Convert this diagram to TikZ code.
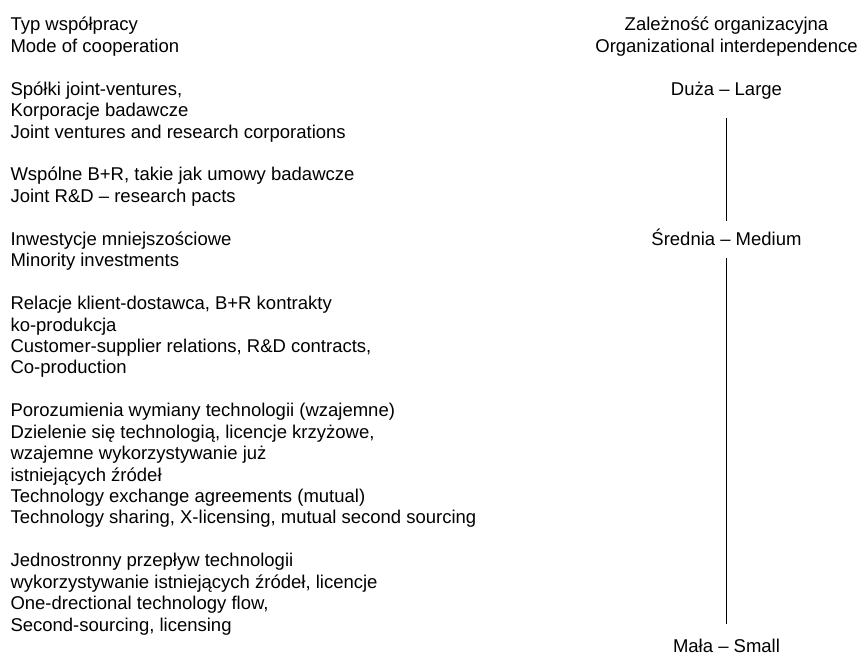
\documentclass[tikz,border=0pt]{standalone}
\usepackage{fontspec}
\setmainfont{Liberation Sans}
\begin{document}
\begin{tikzpicture}[x=1pt,y=-1pt,
  every node/.style={inner sep=0pt,outer sep=0pt,font=\fontsize{18.5}{21.4}\selectfont},
  lefttxt/.style={anchor=base west},
  righttxt/.style={anchor=base},
  scaleline/.style={draw=black,line width=1.1pt}]
\useasboundingbox (0,0) rectangle (862,655);
\def\lx{10.5}
\def\rx{726.5}
% left column: baselines 31 + (n-1)*21.43
\node[lefttxt] (l1) at (\lx,31.0) {Typ współpracy};
\node[lefttxt] (l2) at (\lx,52.4) {Mode of cooperation};
\node[lefttxt] (l4) at (\lx,95.3) {Spółki joint-ventures,};
\node[lefttxt] (l5) at (\lx,116.7) {Korporacje badawcze};
\node[lefttxt] (l6) at (\lx,138.2) {Joint ventures and research corporations};
\node[lefttxt] (l8) at (\lx,181.0) {Wspólne B+R, takie jak umowy badawcze};
\node[lefttxt] (l9) at (\lx,202.4) {Joint R\&D – research pacts};
\node[lefttxt] (l11) at (\lx,245.3) {Inwestycje mniejszościowe};
\node[lefttxt] (l12) at (\lx,266.7) {Minority investments};
\node[lefttxt] (l14) at (\lx,309.6) {Relacje klient-dostawca, B+R kontrakty};
\node[lefttxt] (l15) at (\lx,331.0) {ko-produkcja};
\node[lefttxt] (l16) at (\lx,352.5) {Customer-supplier relations, R\&D contracts,};
\node[lefttxt] (l17) at (\lx,373.9) {Co-production};
\node[lefttxt] (l19) at (\lx,416.8) {Porozumienia wymiany technologii (wzajemne)};
\node[lefttxt] (l20) at (\lx,438.2) {Dzielenie się technologią, licencje krzyżowe,};
\node[lefttxt] (l21) at (\lx,459.6) {wzajemne wykorzystywanie już};
\node[lefttxt] (l22) at (\lx,481.1) {istniejących źródeł};
\node[lefttxt] (l23) at (\lx,502.5) {Technology exchange agreements (mutual)};
\node[lefttxt] (l24) at (\lx,523.9) {Technology sharing, X-licensing, mutual second sourcing};
\node[lefttxt] (l26) at (\lx,566.8) {Jednostronny przepływ technologii};
\node[lefttxt] (l27) at (\lx,588.2) {wykorzystywanie istniejących źródeł, licencje};
\node[lefttxt] (l28) at (\lx,609.7) {One-drectional technology flow,};
\node[lefttxt] (l29) at (\lx,631.1) {Second-sourcing, licensing};
% right column
\node[righttxt] (r1) at (\rx,31.0) {Zależność organizacyjna};
\node[righttxt] (r2) at (\rx,52.4) {Organizational interdependence};
\node[righttxt] (duza) at (\rx,95.3) {Duża – Large};
\node[righttxt] (srednia) at (\rx,245.3) {Średnia – Medium};
\node[righttxt] (mala) at (\rx,652.5) {Mała – Small};
% scale line
\draw[scaleline] ([yshift=-23pt]duza.base) -- ([yshift=24pt]srednia.base);
\draw[scaleline] ([yshift=-12.7pt]srednia.base) -- ([yshift=28.5pt]mala.base);
\end{tikzpicture}
\end{document}
